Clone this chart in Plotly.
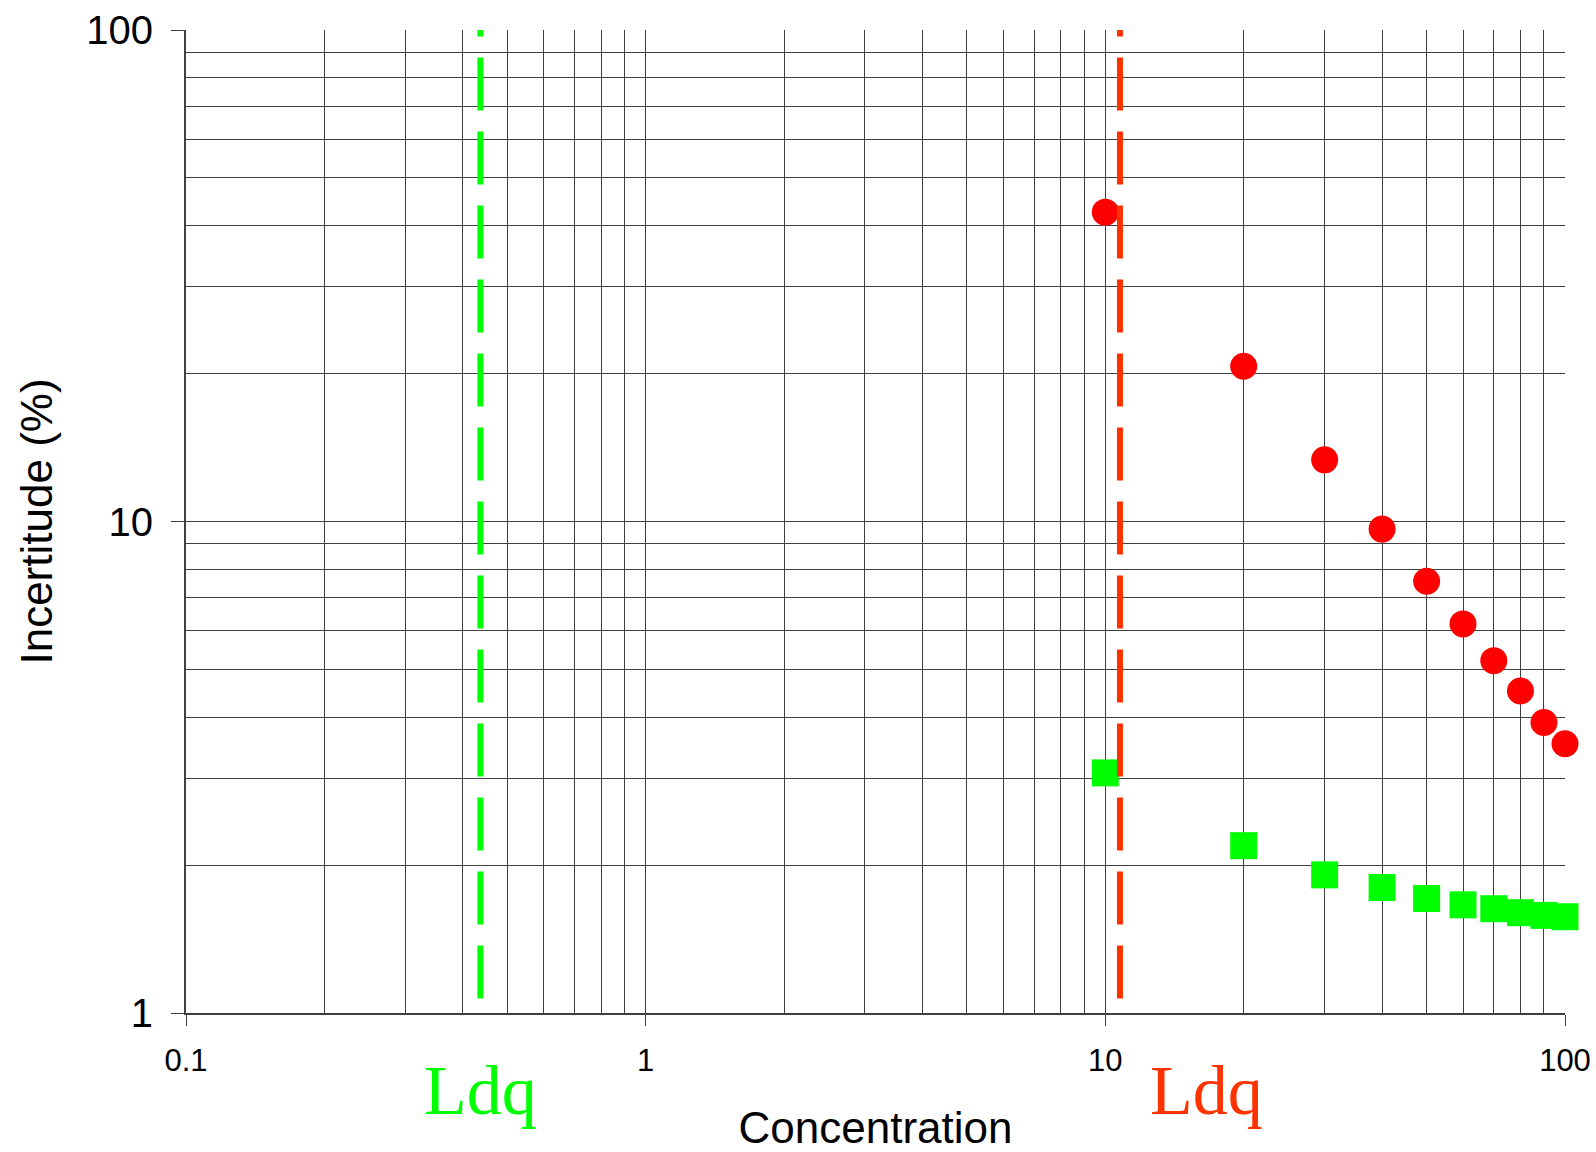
import plotly.graph_objects as go

concentration = [10, 20, 30, 40, 50, 60, 70, 80, 90, 100]
red_uncertainty = [42.6, 20.7, 13.35, 9.65, 7.56, 6.19, 5.21, 4.52, 3.90, 3.53]
green_uncertainty = [3.08, 2.19, 1.91, 1.80, 1.71, 1.66, 1.63, 1.60, 1.58, 1.57]
ldq_green = 0.437
ldq_red = 10.76
ldq_line_y = [1.07, 100]
x_ticks = [0.1, 1, 10, 100]
x_tick_text = ["0.1", "1", "10", "100"]
y_ticks = [1, 10, 100]
y_tick_text = ["1", "10", "100"]

fig = go.Figure()

fig.add_trace(go.Scatter(x=concentration, y=red_uncertainty, mode="markers",
                         marker=dict(symbol="circle", size=27, color="#FF0000"),
                         showlegend=False, cliponaxis=False))
fig.add_trace(go.Scatter(x=concentration, y=green_uncertainty, mode="markers",
                         marker=dict(symbol="square", size=27, color="#00FF00"),
                         showlegend=False, cliponaxis=False))
fig.add_trace(go.Scatter(x=[ldq_green, ldq_green], y=ldq_line_y, mode="lines",
                         line=dict(color="#00FF00", width=6, dash="53px,21px"),
                         showlegend=False, hoverinfo="skip"))
fig.add_trace(go.Scatter(x=[ldq_red, ldq_red], y=ldq_line_y, mode="lines",
                         line=dict(color="#FF3300", width=6, dash="53px,21px"),
                         showlegend=False, hoverinfo="skip"))

font_family = "Liberation Sans, Arial, sans-serif"

fig.update_layout(
    width=1596, height=1152,
    margin=dict(l=186, r=31, t=30, b=139),
    paper_bgcolor="white", plot_bgcolor="white",
    showlegend=False,
    xaxis=dict(
        type="log", range=[-1, 2], automargin=False,
        tickvals=x_ticks, ticktext=x_tick_text,
        tickfont=dict(family=font_family, size=31, color="black"),
        ticks="outside", ticklen=11, tickcolor="#404040", tickwidth=1,
        showgrid=True, gridcolor="#404040", gridwidth=1,
        minor=dict(dtick="D1", showgrid=True, gridcolor="#404040", gridwidth=1, ticks=""),
        showline=True, linecolor="#404040", linewidth=2,
        mirror=False, zeroline=False,
        ticklabelstandoff=8,
        title=dict(text="Concentration", font=dict(family=font_family, size=44, color="black"), standoff=50),
    ),
    yaxis=dict(
        type="log", range=[0, 2], automargin=False,
        tickvals=y_ticks, ticktext=y_tick_text,
        tickfont=dict(family=font_family, size=40, color="black"),
        ticks="outside", ticklen=13, tickcolor="#404040", tickwidth=1,
        showgrid=True, gridcolor="#404040", gridwidth=1,
        minor=dict(dtick="D1", showgrid=True, gridcolor="#404040", gridwidth=1, ticks=""),
        showline=True, linecolor="#404040", linewidth=2,
        zeroline=False,
        ticklabelstandoff=10,
        title=dict(text="Incertitude (%)", font=dict(family=font_family, size=44, color="black"), standoff=20),
    ),
    annotations=[
        dict(x=-0.3595, y=-0.079, xref="x", yref="paper", text="Ldq", showarrow=False,
             font=dict(family="Liberation Serif, Times New Roman, serif", size=70, color="#00FF00"),
             xanchor="center", yanchor="middle"),
        dict(x=1.2203, y=-0.079, xref="x", yref="paper", text="Ldq", showarrow=False,
             font=dict(family="Liberation Serif, Times New Roman, serif", size=70, color="#FF3300"),
             xanchor="center", yanchor="middle"),
    ],
)

fig.write_html("out.html")
